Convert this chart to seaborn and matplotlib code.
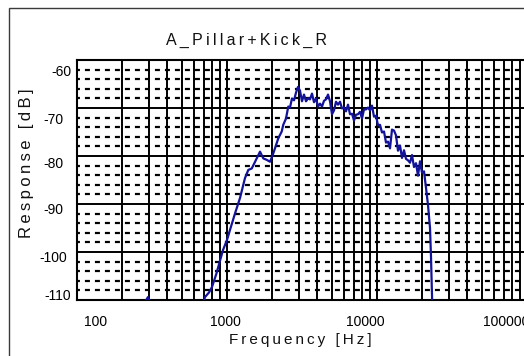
import matplotlib
matplotlib.use("Agg")
import matplotlib.pyplot as plt
import matplotlib.ticker as mticker
from matplotlib.patches import Rectangle
from matplotlib.transforms import ScaledTranslation
import seaborn as sns

# Measured response (frequency in Hz, level in dB)
freq_hz = [
    100, 150, 200, 250, 280, 297, 310, 350, 450, 550, 650, 690,
    713, 760, 794, 850, 940, 1000, 1047, 1130, 1221,
    1318, 1387, 1462, 1578, 1660, 1746, 1839, 1935, 2017, 2089,
    2198, 2316, 2372, 2473, 2562,
    2630, 2712, 2797, 2884, 2974, 3067, 3162, 3261, 3363, 3467,
    3576, 3687, 3802, 3921, 4043, 4169, 4299, 4433, 4571, 4714,
    4861, 5012, 5168, 5330, 5496, 5667, 5844, 6026, 6214, 6408,
    6607, 6813, 7026, 7244, 7470, 7703, 7943, 8191, 8446, 8710,
    8981, 9261, 9550, 9848, 10155, 10471, 10798, 11134, 11482, 11840,
    12209, 12589, 12982, 13387, 13804, 14234, 14678, 15136, 15608, 16095,
    16596, 17113, 17647, 18197, 18765, 19350, 19953, 20575, 21216, 21878,
    22561, 22909, 23263, 23500, 25000,
]
response_db = [
    -126.0, -121.0, -117.0, -113.0, -110.8, -109.4, -110.5, -114.0, -117.0, -115.0, -112.0, -111.0,
    -109.4, -108.4, -107.3, -104.5, -99.6, -97.5, -95.4, -92.0, -88.75,
    -84.6, -82.9, -82.6, -80.5, -79.1, -80.5, -80.8, -81.2, -79.8, -78.4,
    -76.3, -74.9, -73.5, -72.2, -69.7,
    -69.9, -68.0, -68.4, -66.8, -65.6, -66.4, -68.6, -67.2, -68.6, -68.0,
    -68.2, -67.0, -68.8, -68.0, -69.7, -69.1, -69.7, -68.5, -68.2, -67.2,
    -68.6, -71.3, -70.5, -68.7, -69.3, -68.7, -70.1, -69.9, -70.7, -69.3,
    -71.3, -71.2, -72.6, -71.4, -71.3, -70.8, -72.2, -70.3, -70.3, -69.9,
    -70.5, -69.5, -71.8, -71.6, -73.6, -73.5, -75.1, -74.9, -77.2, -77.0,
    -78.4, -74.5, -74.7, -75.7, -78.9, -77.8, -80.4, -78.8, -80.6, -80.9,
    -81.4, -79.8, -82.3, -81.5, -84.1, -81.1, -83.5, -83.2, -86.6, -90.2,
    -95.0, -101.0, -109.0, -115.0, -125.0,
]

x_ticks = [100, 1000, 10000, 100000]
x_tick_labels = ["100", "1000", "10000", "100000"]
y_ticks = [-110, -100, -90, -80, -70, -60]
y_tick_labels = ["-110", "-100", "-90", "-80", "-70", "-60"]

title_text = "A_Pillar+Kick_R"
x_label = "Frequency [Hz]"
y_label = "Response [dB]"

sns.set_theme(style="white")
plt.rcParams["font.family"] = ["Liberation Sans", "DejaVu Sans"]
plt.rcParams["lines.scale_dashes"] = False

W, H = 524, 356
fig = plt.figure(figsize=(W / 100, H / 100), dpi=100)
fig.patch.set_facecolor("white")

# outer frame of the chart window
fig.patches.append(Rectangle((9 / W, -0.2), 1.2, 1 - 8 / H + 0.2,
                             transform=fig.transFigure, fill=False,
                             edgecolor="#3a3a3a", linewidth=1.0))

ax_left, ax_right, ax_top, ax_bottom = 77, 560, 60, 300
ax = fig.add_axes([ax_left / W, 1 - ax_bottom / H,
                   (ax_right - ax_left) / W, (ax_bottom - ax_top) / H])
ax.set_facecolor("white")

sns.lineplot(x=freq_hz, y=response_db, ax=ax, color="#12129a",
             linewidth=1.6, estimator=None, sort=False, zorder=5)

ax.set_xscale("log")
decade_px = 150.0
ax.set_xlim(100, 100 * 10 ** ((ax_right - ax_left) / decade_px))
ax.set_ylim(-110, -60)

ax.xaxis.set_major_locator(mticker.FixedLocator(x_ticks))
ax.xaxis.set_minor_locator(mticker.LogLocator(base=10, subs=range(2, 10), numticks=20))
ax.xaxis.set_minor_formatter(mticker.NullFormatter())
ax.set_xticks(x_ticks)
ax.set_xticklabels(x_tick_labels)
ax.set_yticks(y_ticks)
ax.set_yticklabels(y_tick_labels)
ax.yaxis.set_minor_locator(mticker.MultipleLocator(2))

ax.tick_params(axis="both", which="both", length=0, labelsize=10, colors="black")
ax.tick_params(axis="x", pad=11)
ax.tick_params(axis="y", pad=3)

# grid: solid verticals, solid major horizontals, dashed minor horizontals
ax.grid(True, axis="x", which="both", color="black", linewidth=1.4, linestyle="-")
ax.grid(True, axis="y", which="major", color="black", linewidth=1.4, linestyle="-")
ax.grid(True, axis="y", which="minor", color="black", linewidth=1.6,
        linestyle=(1.5, (3.6, 3.6)))

for sp in ax.spines.values():
    sp.set_color("black")
    sp.set_linewidth(1.5)
    sp.set_visible(True)
ax.set_xlabel("")
ax.set_ylabel("")

# nudge tick labels (pixel offsets, right / down)
x_offsets_px = [19, -2, -12, -21]
for lab, dx in zip(ax.get_xticklabels(), x_offsets_px):
    lab.set_transform(lab.get_transform() + ScaledTranslation(dx / 100, 0, fig.dpi_scale_trans))
y_offsets_px = {-110: (-2, -5), -100: (-6, 5), -90: (-9, 4),
                -80: (-9, 7), -70: (-9, 10), -60: (-1, 10)}
for lab, val in zip(ax.get_yticklabels(), y_ticks):
    dx, dy = y_offsets_px[val]
    lab.set_transform(lab.get_transform() + ScaledTranslation(dx / 100, -dy / 100, fig.dpi_scale_trans))


def tracked(s):
    return "\u2009".join(s)


fig.text(247 / W, 1 - 40 / H, tracked(title_text), ha="center", va="center",
         fontsize=11.5, color="#111111")
fig.text(300 / W, 1 - 340 / H, tracked(x_label), ha="center", va="center",
         fontsize=11, color="#111111")
fig.text(27 / W, 1 - 163 / H, tracked(y_label), ha="center", va="center",
         rotation=90, fontsize=12, color="#111111")

fig.savefig("out.png", dpi=100, facecolor="white")
